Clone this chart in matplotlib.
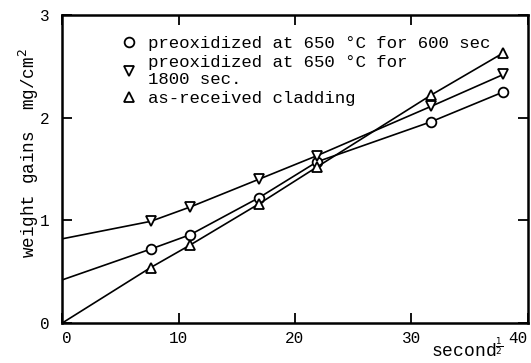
import numpy as np
import matplotlib
matplotlib.use("Agg")
import matplotlib.pyplot as plt

# square root of oxidation time (s^1/2)
t_half = [7.6, 11.0, 16.9, 21.9, 31.7, 37.9]

# weight gains, mg/cm2
pre_600 = [0.72, 0.86, 1.22, 1.57, 1.96, 2.25]
pre_1800 = [0.99, 1.13, 1.40, 1.63, 2.11, 2.42]
as_received = [0.54, 0.76, 1.16, 1.52, 2.22, 2.63]

# initial oxide weight of each specimen at t = 0
start_600 = 0.42
start_1800 = 0.82
start_asrec = 0.0

labels = [
    "preoxidized at 650 °C for 600 sec",
    "preoxidized at 650 °C for\n1800 sec.",
    "as-received cladding",
]

mono = "Liberation Mono"

fig = plt.figure(figsize=(5.31, 3.63), dpi=100)
ax = fig.add_axes([0.117, 0.110, 0.877, 0.849])

series = [
    (pre_600, start_600, "o", labels[0]),
    (pre_1800, start_1800, "v", labels[1]),
    (as_received, start_asrec, "^", labels[2]),
]
for ys, y0, mk, lab in series:
    xs = [0.0] + t_half
    yy = [y0] + ys
    ax.plot(xs, yy, color="black", lw=1.2)
    ax.plot(t_half, ys, linestyle="none", marker=mk, ms=7, mfc="white",
            mec="black", mew=1.3, label=lab)

ax.set_xlim(0, 40)
ax.set_ylim(0, 3)
ax.set_xticks([0, 10, 20, 30, 40])
ax.set_yticks([0, 1, 2, 3])
ax.tick_params(direction="in", length=7, width=1.3, top=True, right=True,
               labelsize=11.5)
ax.tick_params(axis="x", pad=6)
ax.tick_params(axis="y", pad=9)
for lbl in ax.get_xticklabels() + ax.get_yticklabels():
    lbl.set_family(mono)
ax.get_xticklabels()[-1].set_ha("right")
ax.get_xticklabels()[0].set_ha("left")
for s in ax.spines.values():
    s.set_linewidth(1.8)

ax.set_ylabel("weight gains  mg/cm$^2$", family=mono, fontsize=12.7)
ax.yaxis.set_label_coords(-0.045, 0.55)
ax.set_xlabel("second$^{\\frac{1}{2}}$", family=mono, fontsize=13)
ax.xaxis.set_label_coords(0.87, -0.042)

ax.legend(loc="upper left", bbox_to_anchor=(0.11, 0.955), frameon=False,
          prop={"family": mono, "size": 12.5}, handlelength=1.0,
          handletextpad=0.6, labelspacing=0.22, borderaxespad=0)

fig.savefig("out.png", dpi=100)
